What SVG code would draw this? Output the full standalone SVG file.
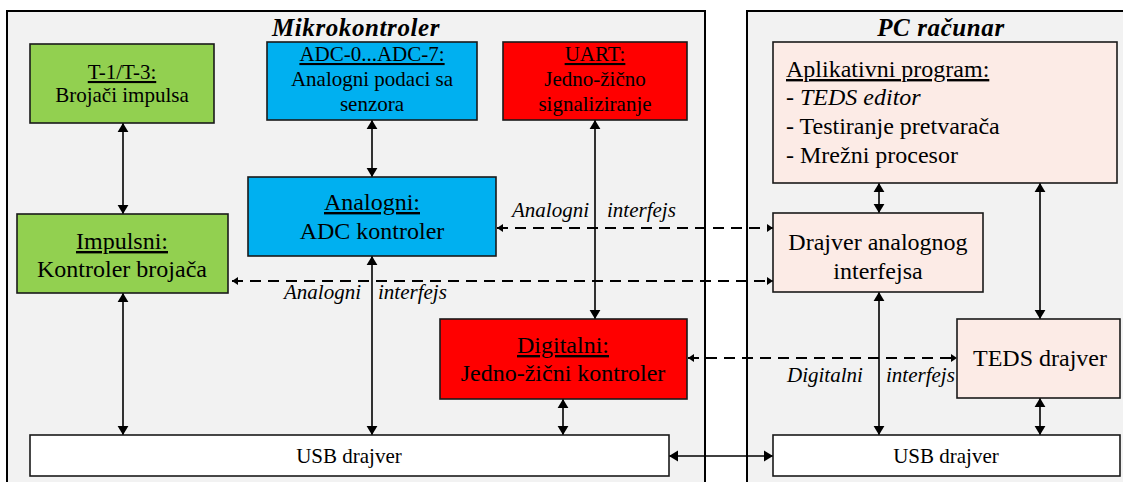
<svg xmlns="http://www.w3.org/2000/svg" width="1123" height="482" viewBox="0 0 1123 482" font-family="'Liberation Serif', 'Times New Roman', serif">
<defs>
<style>
.cont{fill:#f2f2f2;stroke:#000;stroke-width:2}
.box{stroke:#1a1a1a;stroke-width:1.6}
.g{fill:#92d050}.b{fill:#00b0f0}.r{fill:#ff0000}.p{fill:#fcebe6}.w{fill:#fff}
text{font-family:'Liberation Serif','Times New Roman',serif;fill:#000}
.t{font-size:25px;font-weight:bold;font-style:italic;letter-spacing:0.6px;text-anchor:middle}
.s{font-size:21px;text-anchor:middle}
.m{font-size:24px;text-anchor:middle}
.a{font-size:24px}
.i{font-size:21px;font-style:italic}
.u{text-decoration:underline}
.ln{stroke:#000;stroke-width:1.6;fill:none;marker-start:url(#ah);marker-end:url(#ah)}
.ds{stroke:#000;stroke-width:2;fill:none;stroke-dasharray:11 7;marker-start:url(#dh);marker-end:url(#dh)}
</style>
<marker id="ah" viewBox="0 0 10 12" refX="10" refY="6" markerWidth="9" markerHeight="12" markerUnits="userSpaceOnUse" orient="auto-start-reverse">
<path d="M0,0 L10,6 L0,12 z" fill="#000"/>
</marker>
<marker id="dh" viewBox="0 0 6 8" refX="6" refY="4" markerWidth="6" markerHeight="8" markerUnits="userSpaceOnUse" orient="auto-start-reverse">
<path d="M0,0 L6,4 L0,8 z" fill="#000"/>
</marker>
</defs>
<rect x="0" y="0" width="1123" height="482" fill="#fff"/>
<g id="mikrokontroler">
<rect class="cont" x="7" y="11" width="698" height="490"/>
<text class="t" x="356" y="36">Mikrokontroler</text>
</g>
<g id="pc">
<rect class="cont" x="747" y="11" width="400" height="490"/>
<text class="t" x="941" y="36">PC računar</text>
</g>
<g id="connectors">
<line class="ln" x1="123" y1="123" x2="123" y2="214"/>
<line class="ln" x1="123" y1="293" x2="123" y2="435"/>
<line class="ln" x1="372" y1="120" x2="372" y2="177"/>
<line class="ln" x1="372" y1="256" x2="372" y2="435"/>
<line class="ln" x1="595" y1="120" x2="595" y2="319"/>
<line class="ln" x1="563" y1="399" x2="563" y2="435"/>
<line class="ln" x1="669" y1="456" x2="773" y2="456"/>
<line class="ln" x1="879" y1="183" x2="879" y2="213"/>
<line class="ln" x1="1040" y1="183" x2="1040" y2="319"/>
<line class="ln" x1="879" y1="292" x2="879" y2="435"/>
<line class="ln" x1="1040" y1="398" x2="1040" y2="435"/>
<line class="ds" x1="497" y1="228" x2="773" y2="228"/>
<line class="ds" x1="232" y1="281" x2="773" y2="281"/>
<line class="ds" x1="688" y1="358" x2="957" y2="358"/>
<text class="i" y="217"><tspan x="512">Analogni</tspan><tspan x="607">interfejs</tspan></text>
<text class="i" y="299"><tspan x="284">Analogni</tspan><tspan x="378">interfejs</tspan></text>
<text class="i" y="382"><tspan x="787">Digitalni</tspan><tspan x="886">interfejs</tspan></text>
</g>
<g id="t1t3">
<rect class="box g" x="30" y="44" width="184" height="79"/>
<text class="s" x="122" y="79"><tspan class="u">T-1/T-3:</tspan></text>
<text class="s" x="122" y="102">Brojači impulsa</text>
</g>
<g id="adc">
<rect class="box b" x="267" y="42" width="210" height="78"/>
<text class="s" x="372" y="61"><tspan class="u">ADC-0...ADC-7:</tspan></text>
<text class="s" x="372" y="86">Analogni podaci sa</text>
<text class="s" x="372" y="111">senzora</text>
</g>
<g id="uart">
<rect class="box r" x="503" y="42" width="184" height="78"/>
<text class="s" x="595" y="61"><tspan class="u">UART:</tspan></text>
<text class="s" x="595" y="86">Jedno-žično</text>
<text class="s" x="595" y="111">signaliziranje</text>
</g>
<g id="analogni">
<rect class="box b" x="248" y="177" width="248" height="79"/>
<text class="m" x="372" y="210"><tspan class="u">Analogni:</tspan></text>
<text class="m" x="372" y="239">ADC kontroler</text>
</g>
<g id="impulsni">
<rect class="box g" x="17" y="214" width="211" height="79"/>
<text class="m" x="122" y="249"><tspan class="u">Impulsni:</tspan></text>
<text class="m" x="122" y="277">Kontroler brojača</text>
</g>
<g id="digitalni">
<rect class="box r" x="440" y="319" width="247" height="80"/>
<text class="m" x="563" y="353"><tspan class="u">Digitalni:</tspan></text>
<text class="m" x="563" y="381">Jedno-žični kontroler</text>
</g>
<g id="usb-mk">
<rect class="box w" x="30" y="435" width="639" height="41"/>
<text class="s" x="349" y="463">USB drajver</text>
</g>
<g id="aplikativni">
<rect class="box p" x="773" y="42" width="344" height="141"/>
<text class="a" x="786" y="77"><tspan class="u">Aplikativni program:</tspan></text>
<text class="a" x="786" y="105">- <tspan font-style="italic">TEDS editor</tspan></text>
<text class="a" x="786" y="134">- Testiranje pretvarača</text>
<text class="a" x="786" y="163">- Mrežni procesor</text>
</g>
<g id="drajver-analognog">
<rect class="box p" x="773" y="213" width="210" height="79"/>
<text class="m" x="878" y="250">Drajver analognog</text>
<text class="m" x="878" y="279">interfejsa</text>
</g>
<g id="teds">
<rect class="box p" x="957" y="319" width="163" height="79"/>
<text class="m" x="1040" y="366">TEDS drajver</text>
</g>
<g id="usb-pc">
<rect class="box w" x="773" y="435" width="347" height="41"/>
<text class="s" x="946" y="463">USB drajver</text>
</g>
</svg>
